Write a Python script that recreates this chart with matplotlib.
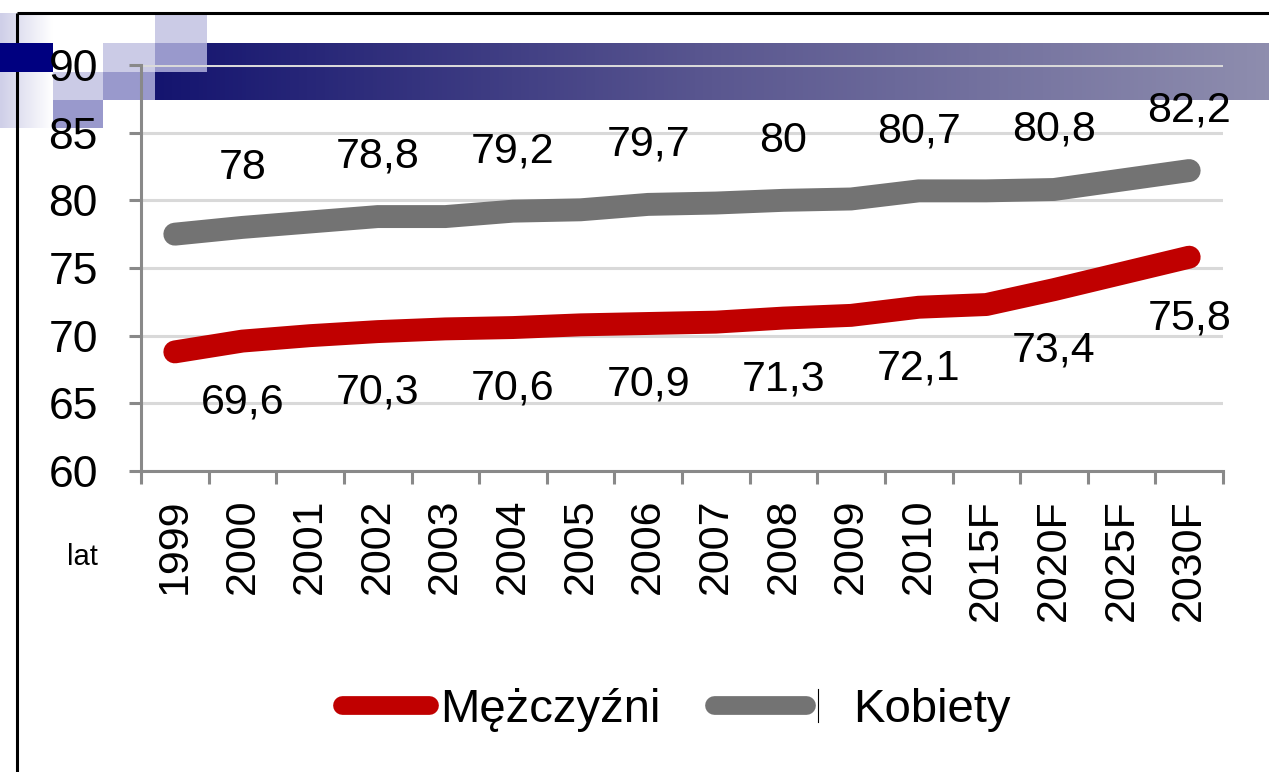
import matplotlib
matplotlib.use("Agg")
import matplotlib.pyplot as plt
import numpy as np
from matplotlib.colors import LinearSegmentedColormap
from matplotlib.lines import Line2D
from matplotlib.patches import Rectangle

# ----- data -------------------------------------------------------------------
years = ["1999", "2000", "2001", "2002", "2003", "2004", "2005", "2006",
         "2007", "2008", "2009", "2010", "2015F", "2020F", "2025F", "2030F"]
men = [68.8, 69.6, 70.0, 70.3, 70.5, 70.6, 70.8, 70.9,
       71.0, 71.3, 71.5, 72.1, 72.3, 73.4, 74.6, 75.8]
women = [77.5, 78.0, 78.4, 78.8, 78.8, 79.2, 79.3, 79.7,
         79.8, 80.0, 80.1, 80.7, 80.7, 80.8, 81.5, 82.2]
labelled = [1, 3, 5, 7, 9, 11, 13, 15]   # points carrying a value label
yticks = [60, 65, 70, 75, 80, 85, 90]

RED = "#C00000"
GREY = "#737373"
GRID = "#D9D9D9"
AXIS = "#898989"
FONT = ["Liberation Sans", "DejaVu Sans"]

plt.rcParams["font.family"] = FONT

W, H = 1269, 772
fig = plt.figure(figsize=(W / 100, H / 100), dpi=100)

# ----- slide decoration (pixel coordinates) -----------------------------------
bg = fig.add_axes([0, 0, 1, 1], zorder=0)
bg.set_xlim(0, W)
bg.set_ylim(H, 0)
bg.axis("off")

strip = LinearSegmentedColormap.from_list("strip", ["#CFCFE8", "#FFFFFF"])
bg.imshow(np.linspace(0, 1, 64)[None, :], cmap=strip, extent=(0, 53, 128, 13),
          aspect="auto", zorder=1)
bar = LinearSegmentedColormap.from_list("bar", ["#14146F", "#5A5790", "#8E8DAE"])
bg.imshow(np.linspace(0, 1, 256)[None, :], cmap=bar, extent=(155, W, 100, 43),
          aspect="auto", zorder=1)
bg.set_xlim(0, W)
bg.set_ylim(H, 0)

LIGHT, MID = "#CBCBE6", "#9999CC"
squares = [(155, 15, 52, 28, LIGHT), (155, 43, 52, 29, MID),
           (103, 43, 52, 29, LIGHT), (103, 72, 52, 28, MID),
           (53, 72, 50, 28, LIGHT), (53, 100, 50, 28, MID)]
for x, y, w, h, c in squares:
    bg.add_patch(Rectangle((x, y), w, h, color=c, lw=0, zorder=2))

bg.plot([17, W], [13, 13], color="black", lw=2.2, zorder=3, solid_capstyle="butt")
bg.plot([17, 17], [13, H], color="black", lw=2.2, zorder=3, solid_capstyle="butt")
bg.add_patch(Rectangle((0, 43), 53, 29, color="#000080", lw=0, zorder=4))

# ----- chart ------------------------------------------------------------------
ax = fig.add_axes([141 / W, 1 - 471 / H, (1223 - 141) / W, (471 - 65) / H], zorder=2)
ax.patch.set_alpha(0)

x = np.arange(len(years))
ax.plot(x, men, color=RED, lw=16.5, solid_capstyle="round",
        solid_joinstyle="round", zorder=3)
ax.plot(x, women, color=GREY, lw=16.5, solid_capstyle="round",
        solid_joinstyle="round", zorder=3)

for i in labelled:
    ax.annotate(f"{women[i]:g}".replace(".", ","), (x[i], women[i]),
                xytext=(0, 43), textcoords="offset points",
                ha="center", va="center", fontsize=31, color="black")
    ax.annotate(f"{men[i]:g}".replace(".", ","), (x[i], men[i]),
                xytext=(0, -44), textcoords="offset points",
                ha="center", va="center", fontsize=31, color="black")

ax.set_xlim(-0.5, len(years) - 0.5)
ax.set_ylim(60, 90)
ax.set_yticks(yticks)
ax.set_yticklabels([str(v) for v in yticks], fontsize=32)
ax.set_xticks(x)
ax.set_xticklabels(years, rotation=90, fontsize=31, va="top", ha="center")
ax.set_xticks(np.arange(-0.5, len(years)), minor=True)
ax.tick_params(axis="x", which="major", length=0, pad=20)
ax.tick_params(axis="x", which="minor", length=9, width=2.2, color=AXIS)
ax.tick_params(axis="y", length=9, width=2.2, color=AXIS, pad=22)

ax.grid(axis="y", color=GRID, lw=2.2, zorder=1)
ax.set_axisbelow(True)
for s in ("top", "right"):
    ax.spines[s].set_visible(False)
for s in ("left", "bottom"):
    ax.spines[s].set_color(AXIS)
    ax.spines[s].set_linewidth(2.2)

fig.text(82 / W, 1 - 557 / H, "lat", fontsize=21, ha="center", va="center")

# ----- legend -----------------------------------------------------------------
fig.add_artist(Line2D([342 / W, 429 / W], [1 - 705 / H] * 2, color=RED, lw=13.5,
                      solid_capstyle="round", transform=fig.transFigure))
fig.add_artist(Line2D([714 / W, 806 / W], [1 - 705 / H] * 2, color=GREY, lw=13.5,
                      solid_capstyle="round", transform=fig.transFigure))
fig.add_artist(Line2D([818 / W, 818 / W], [1 - 689 / H, 1 - 722 / H],
                      color="black", lw=0.8, transform=fig.transFigure))
fig.text(440 / W, 1 - 722 / H, "Mężczyźni", fontsize=34, ha="left", va="baseline")
fig.text(853 / W, 1 - 722 / H, "Kobiety", fontsize=34, ha="left", va="baseline")

fig.savefig("out.png", dpi=100)
